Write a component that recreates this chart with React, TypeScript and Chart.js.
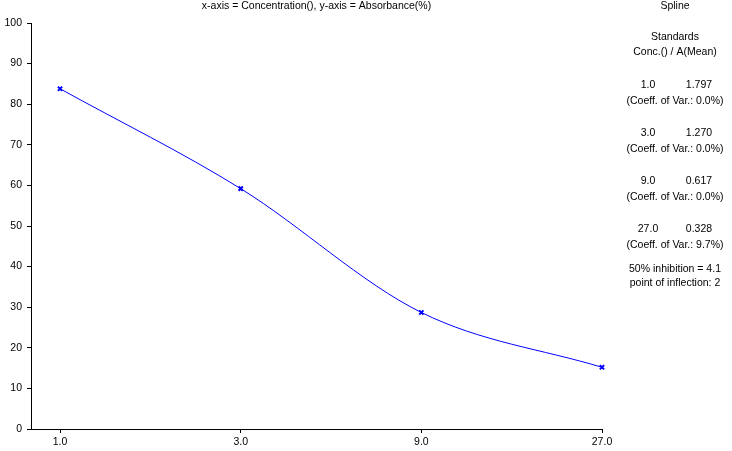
import React, { useEffect, useRef } from "react";
import { Chart, registerables } from "chart.js";

Chart.register(...registerables);

const concentrations = [1.0, 3.0, 9.0, 27.0];
const absorbancePct = [83.8, 59.2, 28.7, 15.2];
const xTickLabels = ["1.0", "3.0", "9.0", "27.0"];
const yTickValues = [0, 10, 20, 30, 40, 50, 60, 70, 80, 90, 100];

const titleText = "x-axis = Concentration(), y-axis = Absorbance(%)";
const panelTitle = "Spline";
const panelHeader = ["Standards", "Conc.() / A(Mean)"];
const standardsConc = ["1.0", "3.0", "9.0", "27.0"];
const standardsMean = ["1.797", "1.270", "0.617", "0.328"];
const coeffVar = ["0.0%", "0.0%", "0.0%", "9.7%"];
const summaryLines = ["50% inhibition = 4.1", "point of inflection: 2"];

const FAMILY = '"Liberation Sans", Arial, sans-serif';
const SIZE = 10.5;
const FONT = `${SIZE}px ${FAMILY}`;

const textPlugin = {
  id: "textPanel",
  afterDraw(chart: any) {
    const ctx = chart.ctx;
    const area = chart.chartArea;
    ctx.save();
    ctx.fillStyle = "#000";
    ctx.font = FONT;
    ctx.textAlign = "center";
    ctx.textBaseline = "middle";
    ctx.fillText(titleText, (area.left + area.right) / 2, 6);
    const cx = 675;
    ctx.fillText(panelTitle, cx, 6);
    ctx.fillText(panelHeader[0], cx, 37);
    ctx.fillText(panelHeader[1], cx, 52);
    for (let i = 0; i < standardsConc.length; i++) {
      const y = 85 + i * 48;
      ctx.fillText(standardsConc[i], 648, y);
      ctx.fillText(standardsMean[i], 699, y);
      ctx.fillText("(Coeff. of Var.: " + coeffVar[i] + ")", cx, y + 16);
    }
    ctx.fillText(summaryLines[0], cx, 269);
    ctx.fillText(summaryLines[1], cx, 283);
    ctx.restore();
  },
};

export default function App() {
  const ref = useRef<HTMLCanvasElement>(null);
  useEffect(() => {
    document.body.style.margin = "0";
    const chart = new Chart(ref.current as HTMLCanvasElement, {
      type: "line",
      data: {
        datasets: [
          {
            data: concentrations.map((c, i) => ({ x: c, y: absorbancePct[i] })),
            borderColor: "#0000ff",
            backgroundColor: "#0000ff",
            borderWidth: 1,
            cubicInterpolationMode: "monotone",
            pointStyle: "crossRot",
            pointRadius: 3,
            pointBorderWidth: 2,
            pointBorderColor: "#0000ff",
            fill: false,
            clip: false,
          } as any,
        ],
      },
      options: {
        responsive: false,
        animation: false,
        layout: { padding: { top: 23, right: 130, left: 0, bottom: 0 } },
        plugins: { legend: { display: false }, title: { display: false }, tooltip: { enabled: false } },
        scales: {
          x: {
            type: "logarithmic",
            min: 0.838,
            max: 27,
            afterBuildTicks: (scale: any) => {
              scale.ticks = concentrations.map((v) => ({ value: v }));
            },
            afterFit: (scale: any) => {
              scale.height = 22;
            },
            ticks: {
              autoSkip: false,
              maxRotation: 0,
              color: "#000",
              font: { family: FAMILY, size: SIZE },
              padding: 3,
              callback: (_v: any, i: number) => xTickLabels[i],
            },
            grid: { drawOnChartArea: false, drawTicks: true, tickLength: 4, color: "#000" },
            border: { display: true, color: "#000", width: 1 },
          },
          y: {
            type: "linear",
            min: 0,
            max: 100,
            afterBuildTicks: (scale: any) => {
              scale.ticks = yTickValues.map((v) => ({ value: v }));
            },
            afterFit: (scale: any) => {
              scale.width = 31;
            },
            ticks: {
              color: "#000",
              font: { family: FAMILY, size: SIZE },
              padding: 5,
              callback: (v: any) => String(v),
            },
            grid: { drawOnChartArea: false, drawTicks: true, tickLength: 4, color: "#000" },
            border: { display: true, color: "#000", width: 1 },
          },
        },
      },
      plugins: [textPlugin],
    });
    return () => chart.destroy();
  }, []);
  return (
    <div style={{ position: "absolute", left: 0, top: 0, width: 732, height: 451, background: "#fff" }}>
      <canvas ref={ref} width={732} height={451} />
    </div>
  );
}
